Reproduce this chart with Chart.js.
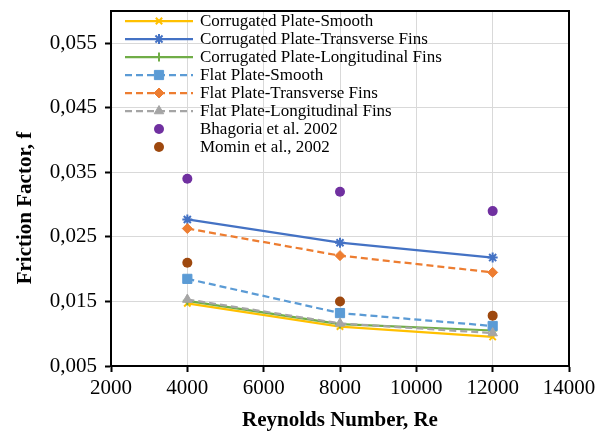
<!DOCTYPE html>
<html>
<head>
<meta charset="utf-8">
<script src="https://cdn.jsdelivr.net/npm/chart.js@4"></script>
<style>
  html, body { margin: 0; padding: 0; background: #fff; }
  #wrap { width: 605px; height: 433px; }
</style>
</head>
<body>
<div id="wrap"><canvas id="chart" width="605" height="433"></canvas></div>
<script>
// Reynolds numbers
var reynolds = [4000, 8000, 12000];

// friction factor
var corrSmooth  = [0.0147, 0.0111, 0.0095];
var corrTrans   = [0.0277, 0.0241, 0.0218];
var corrLong    = [0.0151, 0.0115, 0.0105];
var flatSmooth  = [0.0185, 0.0132, 0.0112];
var flatTrans   = [0.0263, 0.0221, 0.0195];
var flatLong    = [0.0153, 0.0116, 0.0101];
var bhagoria    = [0.0340, 0.0320, 0.0290];
var momin       = [0.0210, 0.0150, 0.0128];

var yTicks = [0.005, 0.015, 0.025, 0.035, 0.045, 0.055];

var seriesNames = [
    'Corrugated Plate-Smooth',
    'Corrugated Plate-Transverse Fins',
    'Corrugated Plate-Longitudinal Fins',
    'Flat Plate-Smooth',
    'Flat Plate-Transverse Fins',
    'Flat Plate-Longitudinal Fins',
    'Bhagoria et al. 2002',
    'Momin et al., 2002'
];

var xTitle = 'Reynolds Number, Re';
var yTitle = 'Friction Factor, f';

var SERIF = "'Liberation Serif', 'Times New Roman', serif";

function pts(vals) {
    return vals.map(function(v, i) { return {x: reynolds[i], y: v}; });
}

function lineSet(name, vals, color, marker, radius, dashed) {
    return {
        label: name,
        data: pts(vals),
        borderColor: color,
        backgroundColor: color,
        borderWidth: 2.25,
        borderDash: dashed ? [7, 4] : [],
        showLine: true,
        pointStyle: marker,
        pointRadius: radius,
        pointBorderWidth: marker == 'crossRot' || marker == 'cross' || marker == 'star' ? 2 : 1,
        pointBorderColor: color,
        pointBackgroundColor: color
    };
}

function dotSet(name, vals, color) {
    return {
        label: name,
        data: pts(vals),
        borderColor: color,
        backgroundColor: color,
        showLine: false,
        pointStyle: 'circle',
        pointRadius: 5,
        pointBorderWidth: 0,
        pointBackgroundColor: color
    };
}

var datasets = [
    lineSet(seriesNames[0], corrSmooth, '#FFC000', 'crossRot', 4.5, false),
    lineSet(seriesNames[1], corrTrans, '#4472C4', 'star', 5, false),
    lineSet(seriesNames[2], corrLong, '#70AD47', 'cross', 4.5, false),
    lineSet(seriesNames[3], flatSmooth, '#5B9BD5', 'rect', 6.5, true),
    lineSet(seriesNames[4], flatTrans, '#ED7D31', 'rectRot', 5, true),
    lineSet(seriesNames[5], flatLong, '#A5A5A5', 'triangle', 5.5, true),
    dotSet(seriesNames[6], bhagoria, '#7030A0'),
    dotSet(seriesNames[7], momin, '#9E480E')
];
// Excel paints later series on top
datasets.forEach(function(d, i) { d.order = datasets.length - i; });

/* black frame round the plot area + the y title (sits a bit low, as in the original) */
var frame = {
    id: 'frame',
    afterDatasetsDraw: function(chart) {
        var a = chart.chartArea, ctx = chart.ctx;
        ctx.save();
        ctx.strokeStyle = '#000';
        ctx.lineWidth = 2;
        ctx.strokeRect(a.left, a.top, a.right - a.left, a.bottom - a.top);
        ctx.restore();
    },
    afterDraw: function(chart) {
        var ctx = chart.ctx;
        ctx.save();
        ctx.translate(26, 208);
        ctx.rotate(-Math.PI / 2);
        ctx.font = 'bold 21px ' + SERIF;
        ctx.fillStyle = '#000';
        ctx.textAlign = 'center';
        ctx.textBaseline = 'middle';
        ctx.fillText(yTitle, 0, 0);
        ctx.restore();
    }
};

/* legend inside the plot, line + marker like Excel */
var innerLegend = {
    id: 'innerLegend',
    afterDraw: function(chart) {
        var ctx = chart.ctx;
        var x0 = chart.chartArea.left + 14, x1 = x0 + 68, xm = (x0 + x1) / 2;
        var y = 21;
        ctx.save();
        ctx.font = '17px ' + SERIF;
        ctx.textBaseline = 'middle';
        chart.data.datasets.forEach(function(d) {
            if (d.showLine) {
                ctx.strokeStyle = d.borderColor;
                ctx.lineWidth = d.borderWidth;
                ctx.setLineDash(d.borderDash);
                ctx.beginPath();
                ctx.moveTo(x0, y);
                ctx.lineTo(x1, y);
                ctx.stroke();
                ctx.setLineDash([]);
            }
            ctx.fillStyle = d.pointBackgroundColor;
            ctx.strokeStyle = d.pointBorderColor || d.borderColor;
            ctx.lineWidth = d.pointBorderWidth || 1;
            Chart.helpers.drawPoint(ctx, {pointStyle: d.pointStyle, radius: d.pointRadius, borderWidth: d.pointBorderWidth, rotation: 0}, xm, y);
            ctx.fillStyle = '#000';
            ctx.fillText(d.label, x1 + 7, y + 1);
            y += 18;
        });
        ctx.restore();
    }
};

new Chart(document.getElementById('chart'), {
    type: 'scatter',
    data: { datasets: datasets },
    plugins: [frame, innerLegend],
    options: {
        responsive: false,
        animation: false,
        devicePixelRatio: 1,
        layout: { padding: { top: 11, right: 36, left: 0, bottom: 0 } },
        plugins: {
            legend: { display: false },
            tooltip: { enabled: false }
        },
        scales: {
            x: {
                type: 'linear',
                min: 2000,
                max: 14000,
                ticks: {
                    stepSize: 2000,
                    color: '#000',
                    font: { family: SERIF, size: 21 },
                    padding: 4,
                    maxRotation: 0,
                    callback: function(v) { return String(v); }
                },
                grid: { color: '#d9d9d9', lineWidth: 1, tickColor: '#000', tickLength: 6, tickWidth: 2 },
                border: { color: '#000', width: 2 },
                title: {
                    display: true,
                    text: xTitle,
                    color: '#000',
                    font: { family: SERIF, size: 21, weight: 'bold' },
                    padding: { top: 2, bottom: 0 }
                },
                afterFit: function(s) {
                    s.height = 433 - 366;
                    s.paddingLeft = 0;
                    s.paddingRight = 0;
                }
            },
            y: {
                type: 'linear',
                min: 0.005,
                max: 0.06,
                afterBuildTicks: function(s) {
                    s.ticks = yTicks.map(function(v) { return {value: v}; });
                },
                ticks: {
                    color: '#000',
                    font: { family: SERIF, size: 21 },
                    padding: 8,
                    callback: function(v) { return v.toFixed(3).replace('.', ','); }
                },
                grid: { color: '#d9d9d9', lineWidth: 1, tickColor: '#000', tickLength: 6, tickWidth: 2 },
                border: { color: '#000', width: 2 },
                afterFit: function(s) {
                    s.width = 111;
                    s.paddingTop = 0;
                    s.paddingBottom = 0;
                }
            }
        }
    }
});
</script>
</body>
</html>
